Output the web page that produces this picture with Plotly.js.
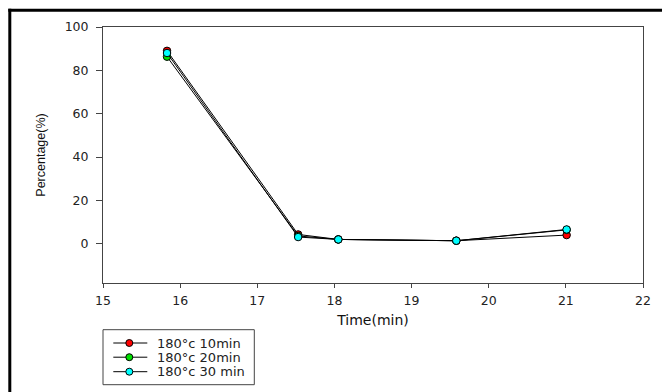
<!DOCTYPE html>
<html>
<head>
<meta charset="utf-8">
<script src="https://cdn.plot.ly/plotly-3.0.1.min.js"></script>
<style>html,body{margin:0;padding:0;background:#fff;}#chart{width:662px;height:392px;}</style>
</head>
<body>
<div id="chart"></div>
<script>
var time = [15.83, 17.53, 18.05, 19.58, 21.01];
var pct10 = [89.0, 4.3, 2.0, 1.4, 4.0];
var pct20 = [86.3, 3.6, 2.0, 1.4, 6.4];
var pct30 = [88.0, 3.1, 2.0, 1.4, 6.6];
var seriesNames = ['180°c 10min', '180°c 20min', '180°c 30 min'];
var seriesColors = ['#ff0000', '#00e000', '#00ffff'];
var xTicks = [15, 16, 17, 18, 19, 20, 21, 22];
var yTicks = [0, 20, 40, 60, 80, 100];

var values = [pct10, pct20, pct30];
var traces = values.map(function (v, i) {
  return {
    x: time, y: v, name: seriesNames[i], type: 'scatter', mode: 'lines+markers',
    line: {color: '#000', width: 1},
    marker: {color: seriesColors[i], size: 7.5, line: {color: '#000', width: 1}},
    cliponaxis: false, showlegend: false
  };
});

var W = 540, H = 256, L = 102.7, T = 27.3;
function px(x) { return (x - L) / W; }
function py(y) { return (T + H - y) / H; }

var shapes = [
  {type: 'line', xref: 'paper', yref: 'paper', x0: px(8), x1: px(670), y0: py(10.5), y1: py(10.5), line: {color: '#000', width: 3}},
  {type: 'line', xref: 'paper', yref: 'paper', x0: px(9.5), x1: px(9.5), y0: py(9), y1: py(400), line: {color: '#000', width: 3}},
  // legend box
  {type: 'rect', xref: 'paper', yref: 'paper', x0: px(102.7), x1: px(254), y0: py(330), y1: py(385), line: {color: '#444', width: 1}, fillcolor: '#fff'}
];
var annotations = [];
var rowY = [343.3, 357.5, 372];
seriesNames.forEach(function (name, i) {
  shapes.push({type: 'line', xref: 'paper', yref: 'paper', x0: px(113), x1: px(147), y0: py(rowY[i]), y1: py(rowY[i]), line: {color: '#000', width: 1}});
  shapes.push({type: 'circle', xref: 'paper', yref: 'paper', x0: px(125.5), x1: px(132.5), y0: py(rowY[i] + 3.5), y1: py(rowY[i] - 3.5), line: {color: '#000', width: 1}, fillcolor: seriesColors[i]});
  annotations.push({xref: 'paper', yref: 'paper', x: px(155), y: py(rowY[i]), xanchor: 'left', yanchor: 'middle', text: name, showarrow: false,
    font: {size: 13, family: 'DejaVu Sans, sans-serif', color: '#222'}});
});

var layout = {
  width: 662, height: 392,
  margin: {l: 102.7, r: 19.3, t: 27.3, b: 108.7, autoexpand: false},
  paper_bgcolor: '#fff', plot_bgcolor: '#fff',
  font: {family: 'DejaVu Sans, sans-serif', color: '#222'},
  showlegend: false,
  xaxis: {
    range: [15, 22], tickvals: xTicks, ticktext: xTicks.map(String),
    showgrid: false, zeroline: false, showline: true, mirror: true,
    linecolor: '#444', linewidth: 1,
    ticks: 'outside', ticklen: 4, tickcolor: '#444',
    ticklabelstandoff: 2,
    tickfont: {size: 12.5, family: 'DejaVu Sans, sans-serif', color: '#222'},
    title: {text: 'Time(min)', font: {size: 14, family: 'DejaVu Sans, sans-serif', color: '#111'}, standoff: 8}
  },
  yaxis: {
    range: [-18.1, 100], tickvals: yTicks, ticktext: yTicks.map(String),
    showgrid: false, zeroline: false, showline: true, mirror: true,
    linecolor: '#444', linewidth: 1,
    ticks: 'outside', ticklen: 6, tickcolor: '#444',
    tickfont: {size: 12.5, family: 'DejaVu Sans, sans-serif', color: '#222'},
    ticklabelstandoff: 5,
    title: {text: 'Percentage(%)', font: {size: 12.5, family: 'Liberation Sans, Arial, sans-serif', color: '#111'}, standoff: 16}
  },
  shapes: shapes,
  annotations: annotations
};

Plotly.newPlot('chart', traces, layout, {displayModeBar: false, staticPlot: true});
</script>
</body>
</html>
